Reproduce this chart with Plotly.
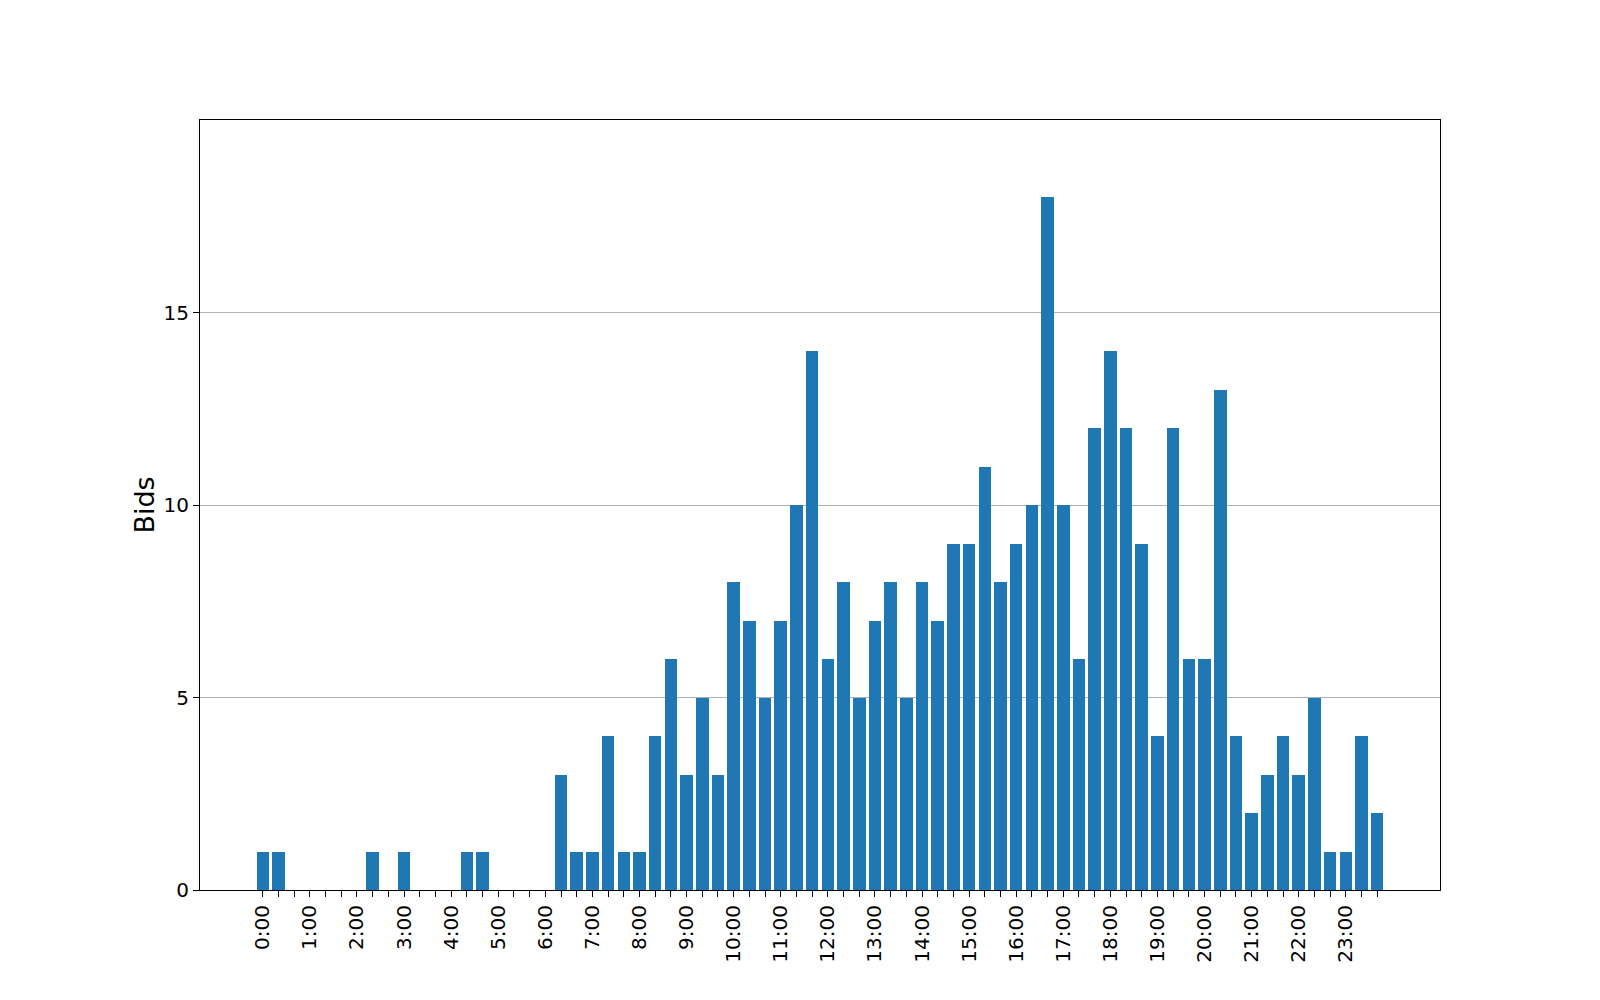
import plotly.graph_objects as go

# 20-minute bins over a day
bins = list(range(72))
bids = [1, 1, 0, 0, 0, 0, 0, 1, 0, 1, 0, 0,
        0, 1, 1, 0, 0, 0, 0, 3, 1, 1, 4, 1,
        1, 4, 6, 3, 5, 3, 8, 7, 5, 7, 10, 14,
        6, 8, 5, 7, 8, 5, 8, 7, 9, 9, 11, 8,
        9, 10, 18, 10, 6, 12, 14, 12, 9, 4, 12, 6,
        6, 13, 4, 2, 3, 4, 3, 5, 1, 1, 4, 2]
tick_text = [f"{b // 3}:00" if b % 3 == 0 else "" for b in bins]
y_ticks = [0, 5, 10, 15]

FONT = "DejaVu Sans"

fig = go.Figure(go.Bar(
    x=bins, y=bids, width=0.8,
    marker=dict(color="#1f77b4", line=dict(width=0)),
))

fig.update_layout(
    width=1600, height=1000,
    margin=dict(l=200, r=160, t=120, b=110),
    paper_bgcolor="white", plot_bgcolor="white",
    font=dict(family=FONT, color="black", size=20),
    showlegend=False,
    bargap=0,
)

fig.update_xaxes(
    range=[-4, 75],
    tickmode="array", tickvals=bins, ticktext=tick_text,
    tickangle=-90,
    ticks="outside", ticklen=6, tickwidth=1, tickcolor="black",
    showgrid=False, zeroline=False,
    showline=True, linecolor="black", linewidth=1.2, mirror=True,
    tickfont=dict(family=FONT, size=20, color="black"),
)
fig.update_yaxes(
    range=[0, 20],
    tickmode="array", tickvals=y_ticks,
    ticks="outside", ticklen=6, tickwidth=1, tickcolor="black",
    showgrid=True, gridcolor="#b0b0b0", gridwidth=1,
    zeroline=False,
    showline=True, linecolor="black", linewidth=1.2, mirror=True,
    layer="above traces",
    tickfont=dict(family=FONT, size=20, color="black"),
    title=dict(text="Bids", font=dict(family=FONT, size=27, color="black"), standoff=0),
)

fig.write_html("out.html")
